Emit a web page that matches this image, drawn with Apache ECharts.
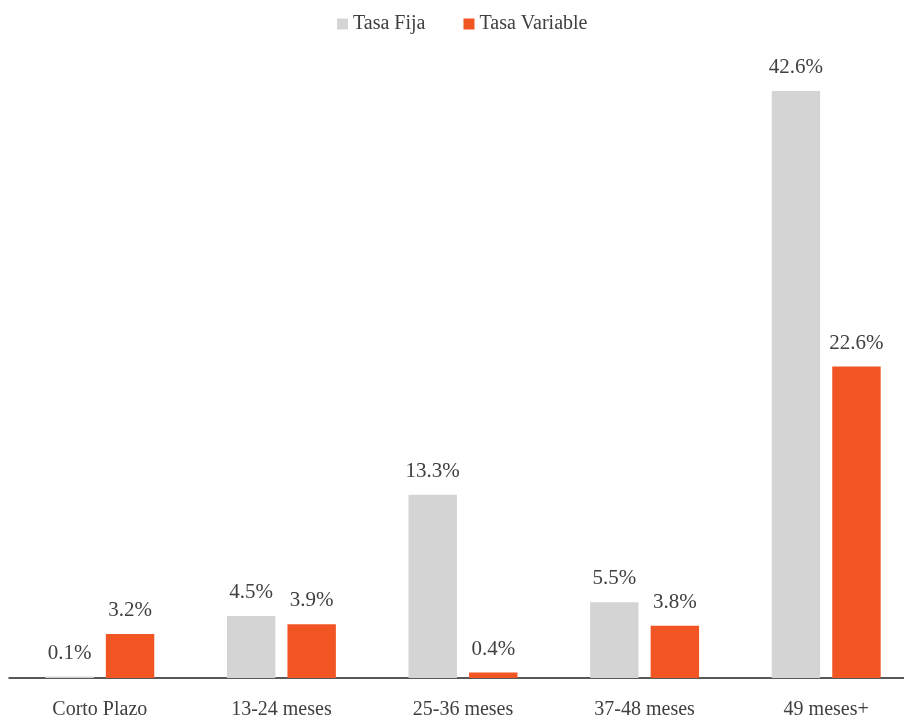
<!DOCTYPE html>
<html>
<head>
<meta charset="utf-8">
<script src="https://cdn.jsdelivr.net/npm/echarts@6/dist/echarts.min.js"></script>
<style>
  html, body { margin: 0; padding: 0; background: #fff; }
  #chart { width: 904px; height: 721px; }
</style>
</head>
<body>
<div id="chart"></div>
<script>
// datos del grafico
var categorias = ['Corto Plazo', '13-24 meses', '25-36 meses', '37-48 meses', '49 meses+'];
var tasaFija = [0.1, 4.5, 13.3, 5.5, 42.6];
var tasaVariable = [3.2, 3.9, 0.4, 3.8, 22.6];

var chart = echarts.init(document.getElementById('chart'));
var fuente = 'Liberation Serif';

var etiqueta = {
    show: true,
    position: 'top',
    distance: 13,
    color: '#404040',
    fontFamily: fuente,
    fontSize: 21,
    formatter: function (p) { return p.value.toFixed(1) + '%'; }
};

option = {
    animation: false,
    legend: {
        top: 9,
        left: 332,
        itemWidth: 11,
        itemHeight: 11,
        itemGap: 38,
        icon: 'rect',
        textStyle: { color: '#404040', fontFamily: fuente, fontSize: 20 },
        data: ['Tasa Fija', 'Tasa Variable']
    },
    // la rejilla sobresale un poco a la derecha, como en el original
    grid: {
        left: 9,
        width: 908,
        top: 58,
        bottom: 43,
        outerBoundsMode: 'none'
    },
    xAxis: {
        type: 'category',
        data: categorias,
        axisLine: { lineStyle: { color: '#222', width: 1.5 } },
        axisTick: { show: false },
        axisLabel: { color: '#404040', fontFamily: fuente, fontSize: 20, margin: 22 }
    },
    yAxis: {
        type: 'value',
        min: 0,
        max: 45,
        show: false
    },
    series: [
        {
            name: 'Tasa Fija',
            type: 'bar',
            data: tasaFija,
            barGap: '25%',
            barCategoryGap: '40%',
            itemStyle: { color: '#d4d4d4' },
            label: etiqueta
        },
        {
            name: 'Tasa Variable',
            type: 'bar',
            data: tasaVariable,
            itemStyle: { color: '#f05523' },
            label: etiqueta
        }
    ]
};

chart.setOption(option);
</script>
</body>
</html>
